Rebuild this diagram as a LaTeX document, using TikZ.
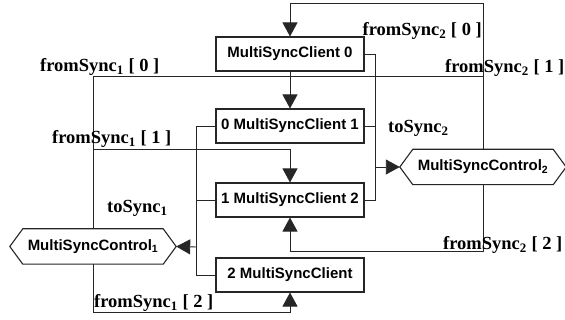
\documentclass[tikz,border=0pt]{standalone}
\usepackage{fontspec}
\setmainfont{Liberation Serif}
\setsansfont{Liberation Sans}
\usetikzlibrary{arrows.meta,calc}
\tikzset{
  client/.style={draw=black!85, line width=1.1pt, minimum width=148pt, minimum height=34pt, inner sep=0pt,
    font=\sffamily\bfseries\fontsize{15}{17}\selectfont},
  hexnode/.style={minimum width=166pt, minimum height=35pt, inner sep=0pt,
    font=\sffamily\bfseries\fontsize{15}{17}\selectfont},
  hexline/.style={draw=black!85, line width=1.1pt},
  wire/.style={draw=black!85, line width=0.9pt},
  arr/.style={wire, -{Triangle[length=14pt,width=15pt]}},
  lbl/.style={font=\rmfamily\bfseries\fontsize{18.5}{20}\selectfont, inner sep=0pt}
}
\begin{document}
\begin{tikzpicture}[x=1pt,y=-1pt]
\useasboundingbox (0,0) rectangle (565,320);
% clients
\node[client] (c0) at (290,54) {MultiSyncClient 0};
\node[client] (c1) at (290,126) {0 MultiSyncClient 1};
\node[client] (c2) at (290,200) {1 MultiSyncClient 2};
\node[client] (c3) at (290,275) {2 MultiSyncClient};
% controls
\node[hexnode] (h1) at (93,246.5) {MultiSyncControl\textsubscript{1}};
\node[hexnode] (h2) at (483,167) {MultiSyncControl\textsubscript{2}};
\foreach \h in {h1,h2}{
  \draw[hexline] (\h.west) -- ([xshift=13pt]\h.north west) -- ([xshift=-13pt]\h.north east)
    -- (\h.east) -- ([xshift=-13pt]\h.south east) -- ([xshift=13pt]\h.south west) -- cycle;
}
% helper coordinates
\coordinate (top) at (290,3);
\coordinate (yA) at (0,76);
\coordinate (yB) at (0,149);
\coordinate (bot2) at (290,251);
\coordinate (bot1) at (290,312);
\coordinate (lbus) at (197,247);
\coordinate (rbus) at (375,167);
% top loop fromSync2[0]
\draw[arr] (h2.north) |- (top) -- (c0.north);
% line at y 76
\draw[wire] (h1.north) |- (h2.north |- yA);
% fromSync1[1]
\draw[arr] (h1.north |- yB) -| (c2.north);
% c0 -> c1
\draw[arr] (c0.south) -- (c1.north);
% right bus (toSync2)
\draw[wire] (c0.east) -- ++(11,0) |- (c2.east);
\draw[wire] (c1.east) -- ++(11,0);
\draw[arr] (rbus) -- (h2.west);
% left bus (toSync1)
\draw[wire] (c1.west) -- ++(-19,0) |- (c3.west);
\draw[wire] (c2.west) -- ++(-19,0);
\draw[arr] (lbus) -- (h1.east);
% fromSync2[2]
\draw[arr] (h2.south) |- (bot2) -- (c2.south);
% fromSync1[2]
\draw[arr] (h1.south) |- (bot1) -- (c3.south);
% labels
\node[lbl, anchor=base east] (l20) at (482,36) {fromSync\textsubscript{2} [ 0 ]};
\node[lbl, anchor=base west] (l10) at (40,72) {fromSync\textsubscript{1} [ 0 ]};
\node[lbl, anchor=base west] (l21) at (445,73) {fromSync\textsubscript{2} [ 1 ]};
\node[lbl, anchor=base west] (ts2) at (388,133) {toSync\textsubscript{2}};
\node[lbl, anchor=base west] (l11) at (52,144) {fromSync\textsubscript{1} [ 1 ]};
\node[lbl, anchor=base west] (ts1) at (107,213) {toSync\textsubscript{1}};
\node[lbl, anchor=base west] (l22) at (443,250) {fromSync\textsubscript{2} [ 2 ]};
\node[lbl, anchor=base west] (l12) at (94,308) {fromSync\textsubscript{1} [ 2 ]};
\end{tikzpicture}
\end{document}
